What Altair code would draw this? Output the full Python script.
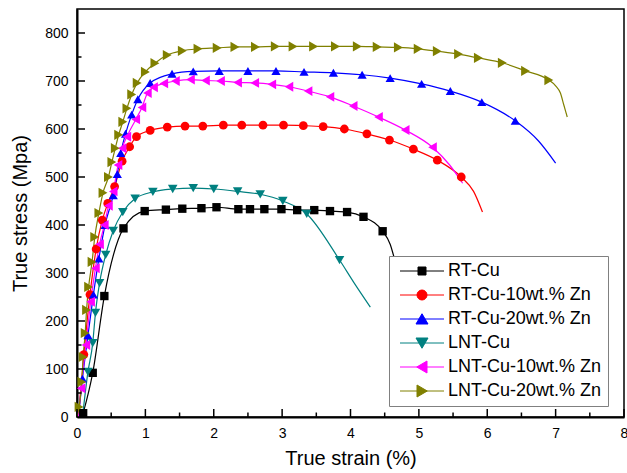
import altair as alt
import pandas as pd

# ---------------- data ----------------
series_names = ["RT-Cu", "RT-Cu-10wt.% Zn", "RT-Cu-20wt.% Zn",
                "LNT-Cu", "LNT-Cu-10wt.% Zn", "LNT-Cu-20wt.% Zn"]
series_colors = ["#000000", "#ff0000", "#0000ff", "#008080", "#ff00ff", "#808000"]
series_shapes = ["square", "circle", "triangle-up", "triangle-down",
                 "triangle-left", "triangle-right"]
series_sizes = [70, 105, 130, 130, 130, 130]

rt_cu_strain = [0.09, 0.23, 0.40, 0.68, 0.99, 1.30, 1.54, 1.82, 2.04, 2.36, 2.53, 2.74,
                2.99, 3.22, 3.47, 3.70, 3.95, 4.19, 4.47, 4.58, 4.66]
rt_cu_stress = [8, 92, 252, 393, 429, 432, 434, 435, 437, 433, 433, 433,
                433, 431, 431, 429, 427, 417, 387, 360, 320]
rt_cu_marked = [1] * 19 + [0, 0]

rt10_strain = [0.02, 0.10, 0.19, 0.28, 0.37, 0.45, 0.55, 0.66, 0.77, 0.87, 1.07, 1.32, 1.58,
               1.84, 2.14, 2.41, 2.72, 3.02, 3.31, 3.60, 3.91, 4.24, 4.57, 4.92, 5.27,
               5.62, 5.80, 5.93]
rt10_stress = [0, 130, 255, 350, 410, 445, 480, 533, 563, 584, 597, 604, 606,
               606, 608, 608, 608, 608, 607, 605, 600, 590, 577, 558, 535,
               500, 470, 427]
rt10_marked = [0] + [1] * 25 + [0, 0]

rt20_strain = [0.02, 0.08, 0.16, 0.24, 0.32, 0.41, 0.53, 0.59, 0.64, 0.71, 0.80, 0.89, 1.07,
               1.39, 1.70, 2.08, 2.50, 2.91, 3.32, 3.75, 4.17, 4.58, 5.04, 5.46, 5.92,
               6.41, 6.75, 7.00]
rt20_stress = [0, 80, 170, 255, 330, 400, 462, 506, 550, 590, 630, 662, 696,
               715, 720, 721, 721, 721, 719, 717, 713, 706, 694, 679, 656,
               617, 575, 529]
rt20_marked = [0] + [1] * 25 + [0, 0]

lnt_cu_strain = [0.08, 0.16, 0.23, 0.27, 0.33, 0.42, 0.53, 0.67, 0.85, 1.11, 1.40, 1.70,
                 2.00, 2.35, 2.68, 3.01, 3.36, 3.84, 4.05, 4.29]
lnt_cu_stress = [0, 94, 154, 217, 279, 338, 388, 427, 455, 469, 475, 477,
                 475, 470, 464, 450, 423, 327, 280, 229]
lnt_cu_marked = [0] + [1] * 17 + [0, 0]

lnt10_strain = [0.02, 0.06, 0.13, 0.20, 0.27, 0.33, 0.40, 0.46, 0.53, 0.60, 0.66, 0.73,
                0.86, 0.95, 1.03, 1.12, 1.27, 1.44, 1.66, 1.88, 2.10, 2.35, 2.60, 2.85,
                3.10, 3.38, 3.70, 4.04, 4.41, 4.80, 5.20, 5.45, 5.64]
lnt10_stress = [0, 60, 150, 240, 310, 360, 400, 440, 470, 525, 560, 584,
                620, 645, 675, 687, 695, 700, 703, 701, 700, 697, 696, 693,
                688, 679, 667, 648, 625, 598, 562, 525, 487]
lnt10_marked = [0] + [1] * 30 + [0, 0]

lnt20_strain = [0.0, 0.03, 0.07, 0.09, 0.12, 0.14, 0.17, 0.22, 0.26, 0.32, 0.38, 0.46, 0.51,
                0.56, 0.61, 0.67, 0.73, 0.80, 0.88, 1.00, 1.14, 1.32, 1.54, 1.77, 2.05,
                2.31, 2.61, 2.90, 3.16, 3.46, 3.78, 4.10, 4.39, 4.70, 4.99, 5.27, 5.58,
                5.87, 6.22, 6.56, 6.90, 7.00, 7.07, 7.12, 7.17]
lnt20_stress = [0, 21, 73, 125, 175, 223, 271, 323, 375, 425, 467, 500, 531,
                560, 588, 615, 643, 672, 696, 719, 737, 754, 763, 767, 769,
                771, 771, 772, 772, 772, 772, 772, 771, 770, 767, 762, 756,
                748, 738, 721, 702, 690, 675, 650, 625]
lnt20_marked = [0] + [1] * 40 + [0, 0, 0, 0]

all_strain = [rt_cu_strain, rt10_strain, rt20_strain, lnt_cu_strain, lnt10_strain, lnt20_strain]
all_stress = [rt_cu_stress, rt10_stress, rt20_stress, lnt_cu_stress, lnt10_stress, lnt20_stress]
all_marked = [rt_cu_marked, rt10_marked, rt20_marked, lnt_cu_marked, lnt10_marked, lnt20_marked]

x_major = [0, 1, 2, 3, 4, 5, 6, 7, 8]
x_minor = [0.5, 1.5, 2.5, 3.5, 4.5, 5.5, 6.5, 7.5]
y_major = [0, 100, 200, 300, 400, 500, 600, 700, 800]
y_minor = [50, 150, 250, 350, 450, 550, 650, 750]

rows = []
for name, xs, ys, ms in zip(series_names, all_strain, all_stress, all_marked):
    for i, (xv, yv, mv) in enumerate(zip(xs, ys, ms)):
        rows.append({"series": name, "strain": xv, "stress": yv, "marked": mv, "i": i})
df = pd.DataFrame(rows)

W, H = 547, 408
FONT = "Liberation Sans"

xscale = alt.Scale(domain=[0, 8], nice=False, zero=False)
yscale = alt.Scale(domain=[0, 850], nice=False, zero=False)
x_axis = alt.Axis(title="True strain (%)", values=x_major, format="d", labelFlush=False,
                  ticks=False, labelPadding=9, titlePadding=8)
y_axis = alt.Axis(title="True stress (Mpa)", values=y_major, labelFlush=False,
                  ticks=False, labelPadding=9, titlePadding=14)

# legend glyphs: a short line with the series marker in its middle
LINE = "M-4.4,0H4.4"
legend_shapes = [
    LINE + "M-0.8,-0.8H0.8V0.8H-0.8Z",
    LINE + "M-1,0A1,1,0,1,1,1,0A1,1,0,1,1,-1,0Z",
    LINE + "M0,-1.05L1.2,1L-1.2,1Z",
    LINE + "M0,1.05L1.2,-1L-1.2,-1Z",
    LINE + "M-1.05,0L1,-1.2L1,1.2Z",
    LINE + "M1.05,0L-1,-1.2L-1,1.2Z",
]

legend = alt.Legend(
    orient="none", legendX=312, legendY=247, title=None,
    labelFont=FONT, labelFontSize=18, labelColor="black",
    strokeColor="#808080", fillColor="white", padding=6, rowPadding=6,
    symbolOffset=18, labelOffset=17, symbolSize=100, symbolStrokeWidth=1,
)

base = alt.Chart(df)

lines = base.mark_line(strokeWidth=1.2, interpolate="monotone").encode(
    x=alt.X("strain:Q", scale=xscale, axis=x_axis),
    y=alt.Y("stress:Q", scale=yscale, axis=y_axis),
    color=alt.Color("series:N", scale=alt.Scale(domain=series_names, range=series_colors),
                    legend=None),
    order="i:Q",
    detail="series:N",
)

points = base.transform_filter("datum.marked == 1").mark_point(
    filled=True, opacity=1
).encode(
    x=alt.X("strain:Q", scale=xscale, axis=x_axis),
    y=alt.Y("stress:Q", scale=yscale, axis=y_axis),
    color=alt.Color("series:N", scale=alt.Scale(domain=series_names, range=series_colors),
                    legend=None),
    shape=alt.Shape("series:N", scale=alt.Scale(domain=series_names, range=series_shapes),
                    legend=None),
    size=alt.Size("series:N", scale=alt.Scale(domain=series_names, range=series_sizes),
                  legend=None),
)

# legend-only layer: its points sit outside the clipped plot area
legend_df = pd.DataFrame({"series": series_names, "strain": [-1.0] * 6, "stress": [-100.0] * 6})
legend_layer = alt.Chart(legend_df).mark_point(filled=True, opacity=1, clip=True).encode(
    x=alt.X("strain:Q", scale=xscale, axis=x_axis),
    y=alt.Y("stress:Q", scale=yscale, axis=y_axis),
    color=alt.Color("series:N", scale=alt.Scale(domain=series_names, range=series_colors),
                    legend=legend, sort=series_names),
    stroke=alt.Stroke("series:N", scale=alt.Scale(domain=series_names, range=series_colors),
                      legend=legend, sort=series_names),
    shape=alt.Shape("series:N", scale=alt.Scale(domain=series_names, range=legend_shapes),
                    legend=legend, sort=series_names),
)

xt_major = alt.Chart(pd.DataFrame({"strain": x_major})).mark_rule(color="black", strokeWidth=1.5).encode(
    x=alt.X("strain:Q", scale=xscale, axis=x_axis), y=alt.value(H), y2=alt.value(H - 8))
xt_minor = alt.Chart(pd.DataFrame({"strain": x_minor})).mark_rule(color="black", strokeWidth=1.5).encode(
    x=alt.X("strain:Q", scale=xscale, axis=x_axis), y=alt.value(H), y2=alt.value(H - 4.5))
yt_major = alt.Chart(pd.DataFrame({"stress": y_major})).mark_rule(color="black", strokeWidth=1.5).encode(
    y=alt.Y("stress:Q", scale=yscale, axis=y_axis), x=alt.value(0), x2=alt.value(8))
yt_minor = alt.Chart(pd.DataFrame({"stress": y_minor})).mark_rule(color="black", strokeWidth=1.5).encode(
    y=alt.Y("stress:Q", scale=yscale, axis=y_axis), x=alt.value(0), x2=alt.value(4.5))

chart = alt.layer(lines, points, xt_major, xt_minor, yt_major, yt_minor, legend_layer).resolve_scale(
    color="independent", shape="independent", stroke="independent"
).resolve_legend(
    color="independent", shape="independent", stroke="independent"
).properties(
    width=W, height=H,
    autosize=alt.AutoSizeParams(type="none"),
    padding={"left": 77, "top": 9, "right": 3, "bottom": 56},
    background="white",
).configure_view(
    stroke="black", strokeWidth=1.5
).configure_axis(
    domainColor="black", domainWidth=2, grid=False,
    labelFont=FONT, labelFontSize=14, labelColor="black",
    titleFont=FONT, titleFontSize=20, titleColor="black", titleFontWeight="normal",
)

chart.save("out.html", embed_options={"renderer": "svg", "actions": False})
